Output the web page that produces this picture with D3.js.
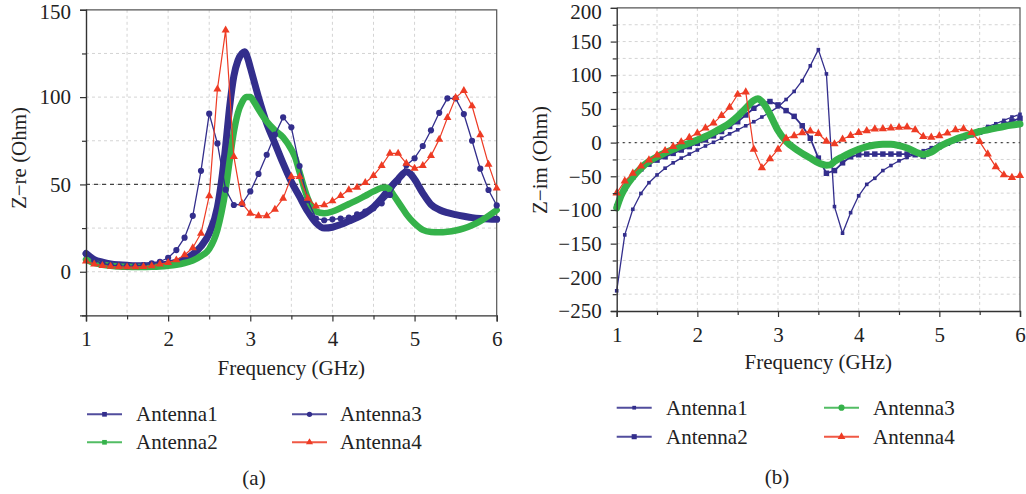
<!DOCTYPE html>
<html>
<head>
<meta charset="utf-8">
<script src="https://cdn.jsdelivr.net/npm/d3@7"></script>
<style>
  body { margin: 0; background: #fff; }
  svg { display: block; }
  svg text { font-family: "Liberation Serif", "DejaVu Serif", serif; }
</style>
</head>
<body>
<svg id="chart" width="1026" height="494"></svg>
<script>
// ---- data ----
var freq = [1.0,1.1,1.2,1.3,1.4,1.5,1.6,1.7,1.8,1.9,2.0,2.1,2.2,2.3,2.4,2.5,2.6,2.7,2.8,2.9,3.0,
            3.1,3.2,3.3,3.4,3.5,3.6,3.7,3.8,3.9,4.0,4.1,4.2,4.3,4.4,4.5,4.6,4.7,4.8,4.9,5.0,
            5.1,5.2,5.3,5.4,5.5,5.6,5.7,5.8,5.9,6.0];

// (a) Z-re
var reAnt1Freq = [1.0,1.1,1.2,1.3,1.4,1.5,1.6,1.7,1.8,1.9,2.0,2.1,2.2,2.3,2.4,2.5,2.6,2.65,2.7,2.75,2.8,2.85,2.9,2.93,2.97,3.0,
                  3.1,3.2,3.3,3.4,3.5,3.6,3.7,3.8,3.9,4.0,4.1,4.2,4.3,4.4,4.5,4.6,4.7,4.8,4.9,4.95,5.0,5.1,5.2,5.3,5.4,5.5,5.6,5.7,5.8,5.9,6.0];
var reAnt1 = [10.5,7,5.5,4.5,4,3.7,3.5,3.5,3.7,4,4.5,5.5,7,10,14.5,22,37,52,72,95,112,121,125,126,122,117,
              100,85,73.5,62,51.5,43,34.5,28,25,25.5,27,29,31,33.5,37,42,48,53,57.3,56,53,45,38.5,35.5,33.8,32.7,31.8,31,30.5,30.2,30];
var reAnt2Freq = [1.0,1.1,1.2,1.3,1.4,1.5,1.6,1.7,1.8,1.9,2.0,2.1,2.2,2.3,2.4,2.5,2.6,2.65,2.7,2.75,2.8,2.85,2.9,2.95,3.0,3.05,
                  3.1,3.2,3.3,3.4,3.5,3.55,3.6,3.65,3.7,3.75,3.8,3.9,4.0,4.1,4.2,4.3,4.4,4.5,4.6,4.65,4.7,4.75,4.8,4.85,4.9,
                  5.0,5.1,5.2,5.3,5.4,5.5,5.6,5.7,5.8,5.9,6.0];
var reAnt2 = [7,5,4,3.4,3,2.8,2.7,2.7,2.8,3,3.4,4,5,6.5,9,13,24,34,47,64,80,91,97,100,100,97,
              93,86,81,77,70,65,57,49,42,37,34.5,33.5,34.5,36.5,38.8,41,43.5,46,48,48.3,47,43.5,40,36.5,33,
              27.7,24,22.8,22.6,22.9,23.6,24.8,26.6,29,32,35.3];
var reAnt3 = [10,6.5,4.8,3.8,3.3,3.2,3.3,3.8,4.8,5.7,8,12.4,19.5,32,57.8,90.5,73.5,47,38.2,38.8,46,
              56,67,78.5,88.4,82.7,60.5,41,30.5,29.5,30,30.5,31,32.9,34.4,36.3,39.2,44,52,61,65,
              72,81,91,99.3,99.3,90.3,75,59,46.8,38];
var reAnt4 = [6,4.4,3.5,3,2.8,2.7,2.7,2.9,3.3,4.4,5.2,6.7,9.6,13.7,22,43.4,104.6,138.4,65.9,39.2,33.4,
              32,32,35.7,42,54.4,54.4,42,37.6,38.2,40.5,43.5,46.8,48.3,51,55,60.7,67.8,67.8,62,59.2,
              60.7,66.4,75.8,88.2,99.7,103.7,94.9,78.3,61.5,47.8];

// (b) Z-im
var imAnt1 = [-220,-137,-99,-75.5,-59.5,-48,-38,-30,-23,-17,-11,-5,0.5,6.5,13,19,25,31,38,45,53,
              64,76,92,114,138,102,-95,-134.5,-104,-79,-62,-53,-41.5,-34,-27,-22,-17,-12,-7.5,-2.5,
              1.5,5,10,14,19,24,28,33,38,42];
var imAnt2 = [-95,-68,-51,-39,-32,-26,-21,-16,-11,-6,-1,4,10,16.5,24,31,41,51,59,61,56,
              47.5,39,25,6.5,-23,-45.5,-41.5,-30,-21,-18,-17,-17,-17,-17,-17,-17,-18,-20,-12,-6,
              -1,3.5,7.5,11.5,15.5,19.5,23.5,28,32,36];
var imAnt3Freq = [1.0,1.05,1.1,1.2,1.3,1.4,1.5,1.6,1.7,1.8,1.9,2.0,2.1,2.2,2.3,2.4,2.5,2.6,2.7,2.75,2.8,2.85,2.9,
                  3.0,3.1,3.2,3.3,3.4,3.5,3.6,3.65,3.7,3.8,3.9,4.0,4.1,4.2,4.3,4.4,4.5,4.6,4.7,4.8,4.9,
                  5.0,5.1,5.2,5.3,5.4,5.5,5.6,5.7,5.8,5.9,6.0];
var imAnt3 = [-97,-80,-68,-51,-38,-28,-21,-15,-10,-5,-1,4,9,15,21.5,29,39,51,62.5,65,61,53,42,
              18,2,-8,-16,-23,-30,-33.5,-33,-28,-21,-15,-10,-6,-3.5,-2.5,-2.5,-4.5,-8,-13.5,-17.5,-14,
              -6,0,5,9,13,16.5,19,21.5,24,26,27.5];
var imAnt4 = [-75,-57,-45.7,-35,-26,-18.5,-12,-6,1,7.5,14,21.5,29,40,52.5,71.5,75,-10,-37.5,-24,-10,
              6.5,10,14.5,17,13.5,2,-2,5,10.5,15,17.5,20,20.5,21.5,22.5,23,19,9,8,10,
              14,19,20.5,15,1.5,-17,-36,-48,-52,-49];

var xTicks = [1, 2, 3, 4, 5, 6];
var reTicks = [0, 50, 100, 150];
var imTicks = [-250, -200, -150, -100, -50, 0, 50, 100, 150, 200];
var names = ["Antenna1", "Antenna2", "Antenna3", "Antenna4"];

var blue = "#332e8c", green = "#35b24a", red = "#ee3b24";
var serif = "Liberation Serif, DejaVu Serif, serif";
var svg = d3.select("#chart").attr("font-family", serif);

function pairs(xs, ys) { return xs.map(function(f, i) { return [f, ys[i]]; }); }

function drawPanel(p) {
  var x = d3.scaleLinear().domain([1, 6]).range([p.left, p.right]);
  var y = d3.scaleLinear().domain(p.yDomain).range([p.bottom, p.top]);
  var g = svg.append("g").attr("font-family", serif);

  var xAll = d3.range(2, 13).map(function(d) { return d / 2; });          // 1 .. 6 by 0.5
  var yAll = d3.range(p.yDomain[0], p.yDomain[1] + 1, 25);

  // grid
  g.selectAll(".gx").data(xAll.slice(1, -1)).enter().append("line")
    .attr("x1", function(d) { return x(d); }).attr("x2", function(d) { return x(d); })
    .attr("y1", p.top).attr("y2", p.bottom)
    .attr("stroke", "#d4d4d4").attr("stroke-width", 1).attr("stroke-dasharray", "3,3");
  g.selectAll(".gy").data(yAll.slice(1, -1)).enter().append("line")
    .attr("x1", p.left).attr("x2", p.right)
    .attr("y1", function(d) { return y(d); }).attr("y2", function(d) { return y(d); })
    .attr("stroke", "#d4d4d4").attr("stroke-width", 1).attr("stroke-dasharray", "3,3");

  // reference line
  g.append("line")
    .attr("x1", p.left).attr("x2", p.right)
    .attr("y1", y(p.refValue)).attr("y2", y(p.refValue))
    .attr("stroke", "#444").attr("stroke-width", 1.3).attr("stroke-dasharray", p.refDash);

  // frame top/right
  g.append("path")
    .attr("d", "M" + p.left + "," + p.top + "H" + p.right + "V" + p.bottom)
    .attr("fill", "none").attr("stroke", "#555").attr("stroke-width", 1.2);

  // series
  p.series.forEach(function(s) {
    var line = d3.line()
      .x(function(d) { return x(d[0]); })
      .y(function(d) { return y(d[1]); })
      .curve(s.thick ? d3.curveMonotoneX : d3.curveLinear);
    g.append("path").datum(s.data)
      .attr("d", line)
      .attr("fill", "none")
      .attr("stroke", s.color)
      .attr("stroke-width", s.width)
      .attr("stroke-linejoin", "round")
      .attr("stroke-linecap", "round");
    if (s.symbol) {
      var sym = d3.symbol().type(s.symbol).size(s.size);
      g.selectAll(null).data(s.data).enter().append("path")
        .attr("d", sym)
        .attr("transform", function(d) { return "translate(" + x(d[0]) + "," + y(d[1]) + ")"; })
        .attr("fill", s.color);
    }
  });

  // axes
  var ay = d3.axisLeft(y).tickValues(yAll).tickSizeOuter(0).tickSize(6).tickPadding(9)
    .tickFormat(function(d) { return p.yLabels.indexOf(d) >= 0 ? d3.format("d")(d) : ""; });
  var gy = g.append("g").attr("transform", "translate(" + p.left + ",0)").call(ay);
  gy.selectAll(".tick line").attr("x2", function(d) { return p.yLabels.indexOf(d) >= 0 ? -6 : -4; });
  // the top label sits a little lower so it is not clipped
  gy.selectAll(".tick text").filter(function(d) { return d === p.yDomain[1]; })
    .attr("y", p.topLabelShift);

  var ax = d3.axisBottom(x).tickValues(xAll).tickSizeOuter(0).tickSize(6).tickPadding(10)
    .tickFormat(function(d) { return xTicks.indexOf(d) >= 0 ? d3.format("d")(d) : ""; });
  var gx = g.append("g").attr("transform", "translate(0," + p.bottom + ")").call(ax);
  gx.selectAll(".tick line").attr("y2", function(d) { return xTicks.indexOf(d) >= 0 ? 6 : 4; });

  [gx, gy].forEach(function(a) {
    a.attr("font-family", serif).attr("font-size", 21);
    a.select(".domain").attr("stroke", "#333").attr("stroke-width", 1.4);
    a.selectAll(".tick line").attr("stroke", "#333").attr("stroke-width", 1.2);
    a.selectAll(".tick text").attr("fill", "#222").attr("font-family", serif);
  });

  // axis titles
  g.append("text")
    .attr("x", (p.left + p.right) / 2).attr("y", p.xTitleY)
    .attr("text-anchor", "middle").attr("font-size", 21).attr("fill", "#222")
    .attr("font-family", serif)
    .text("Frequency (GHz)");
  g.append("text")
    .attr("transform", "translate(" + p.yTitleX + "," + p.yTitleY + ") rotate(-90)")
    .attr("dy", "0.35em")
    .attr("text-anchor", "middle").attr("font-size", 21).attr("fill", "#222")
    .attr("font-family", serif)
    .text(p.yTitle);

  // legend
  p.series.forEach(function(s, i) {
    var col = i < 2 ? 0 : 1, row = i % 2;
    var lx = p.legX[col], ly = p.legY[row];
    var lg = g.append("g");
    lg.append("line").attr("x1", lx).attr("x2", lx + 35).attr("y1", ly).attr("y2", ly)
      .attr("stroke", s.color).attr("stroke-width", 2).attr("opacity", 0.85);
    lg.append("path")
      .attr("d", d3.symbol().type(s.legSymbol || s.symbol || d3.symbolSquare).size(s.legSize || 22))
      .attr("transform", "translate(" + (lx + 17.5) + "," + ly + ")")
      .attr("fill", s.color);
    lg.append("text").attr("x", p.legText[col]).attr("y", ly).attr("dy", "0.34em")
      .attr("font-size", 21).attr("fill", "#222").attr("font-family", serif).text(names[i]);
  });

  g.append("text")
    .attr("x", p.capX).attr("y", p.capY)
    .attr("text-anchor", "middle").attr("font-size", 21).attr("fill", "#222")
    .attr("font-family", serif)
    .text(p.caption);
}

drawPanel({
  left: 86, right: 496.7, top: 9.8, bottom: 315.4,
  yDomain: [-25, 150], yLabels: reTicks, topLabelShift: 1.5,
  refValue: 50, refDash: "4,4",
  xTitleY: 375, yTitleX: 19, yTitleY: 158, yTitle: "Z\u2212re (Ohm)",
  legX: [87, 292], legText: [136, 340], legY: [414.3, 442.3],
  capX: 254, capY: 484.5, caption: "(a)",
  series: [
    { data: pairs(reAnt1Freq, reAnt1), color: blue, width: 7, thick: true, legSymbol: d3.symbolSquare, legSize: 22 },
    { data: pairs(reAnt2Freq, reAnt2), color: green, width: 6.5, thick: true, legSymbol: d3.symbolSquare, legSize: 22 },
    { data: pairs(freq, reAnt3), color: blue, width: 1.3, symbol: d3.symbolCircle, size: 30, legSize: 22 },
    { data: pairs(freq, reAnt4), color: red, width: 1.2, symbol: d3.symbolTriangle, size: 28, legSize: 22 }
  ]
});

drawPanel({
  left: 616.7, right: 1020, top: 7.9, bottom: 311,
  yDomain: [-250, 200], yLabels: imTicks, topLabelShift: 3.5,
  refValue: 0, refDash: "2,4",
  xTitleY: 369, yTitleX: 539.5, yTitleY: 160, yTitle: "Z\u2212im (Ohm)",
  legX: [616.7, 824], legText: [666, 873], legY: [407.7, 436.7],
  capX: 777, capY: 484, caption: "(b)",
  series: [
    { data: pairs(freq, imAnt1), color: blue, width: 1.3, symbol: d3.symbolSquare, size: 13, legSize: 14 },
    { data: pairs(freq, imAnt2), color: blue, width: 1.8, symbol: d3.symbolSquare, size: 30, legSize: 26 },
    { data: pairs(imAnt3Freq, imAnt3), color: green, width: 7, thick: true, legSymbol: d3.symbolCircle, legSize: 30 },
    { data: pairs(freq, imAnt4), color: red, width: 1.2, symbol: d3.symbolTriangle, size: 30, legSize: 26 }
  ]
});
</script>
</body>
</html>
